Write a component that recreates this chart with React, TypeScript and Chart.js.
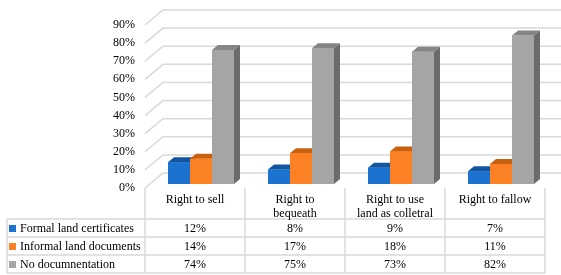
import React, { useEffect, useRef } from "react";
import { Chart, registerables } from "chart.js";

Chart.register(...registerables);

// ---- data ----
const categories: string[][] = [
  ["Right to sell"],
  ["Right to", "bequeath"],
  ["Right to use", "land as colletral"],
  ["Right to fallow"],
];
const seriesNames = ["Formal land certificates", "Informal land documents", "No documnentation"];
const formalCertificates = [12, 8, 9, 7];
const informalDocuments = [14, 17, 18, 11];
const noDocumentation = [74, 75, 73, 82];
const yMax = 90;
const yStep = 10;

// ---- styles ----
const FRONT = ["#1b72cf", "#fc8024", "#a5a5a5"];
const TOP = ["#14559f", "#c9600f", "#858585"];
const SIDE = ["#0f4786", "#a9500c", "#6b6b6b"];
const FONT = '"Liberation Serif", "Times New Roman", serif';
const GRID = "#d9d9d9";

const WALL_DX = 18;
const WALL_DY = -15;
const BAR_SHIFT_X = 6;
const BAR_SHIFT_Y = -4;
const BAR_DX = 6;
const BAR_DY = -5;
const HEADER_H = 31;
const ROW_H = 18;
const LEGEND_LEFT = 7;

const poly = (ctx: CanvasRenderingContext2D, pts: number[][], fill: string) => {
  ctx.beginPath();
  ctx.moveTo(pts[0][0], pts[0][1]);
  for (let i = 1; i < pts.length; i++) ctx.lineTo(pts[i][0], pts[i][1]);
  ctx.closePath();
  ctx.fillStyle = fill;
  ctx.fill();
};

const threeD = {
  id: "threeD",
  beforeDatasetsDraw(chart: any) {
    const { ctx, chartArea, scales } = chart;
    const y = scales.y;
    ctx.save();
    ctx.strokeStyle = GRID;
    ctx.lineWidth = 1.5;
    y.ticks.forEach((t: any) => {
      const yy = y.getPixelForValue(t.value);
      ctx.beginPath();
      ctx.moveTo(chartArea.left, yy);
      ctx.lineTo(chartArea.left + WALL_DX, yy + WALL_DY);
      ctx.lineTo(chartArea.right + WALL_DX, yy + WALL_DY);
      ctx.stroke();
    });
    ctx.restore();
    ctx.save();
    ctx.translate(BAR_SHIFT_X, BAR_SHIFT_Y);
  },
  afterDatasetsDraw(chart: any) {
    const ctx: CanvasRenderingContext2D = chart.ctx;
    const n = chart.data.labels.length;
    for (let i = 0; i < n; i++) {
      chart.data.datasets.forEach((_ds: any, d: number) => {
        const el = chart.getDatasetMeta(d).data[i];
        const { x, y, width, base } = el.getProps(["x", "y", "width", "base"], true);
        const l = x - width / 2;
        const r = x + width / 2;
        poly(ctx, [[l, y], [r, y], [r + BAR_DX, y + BAR_DY], [l + BAR_DX, y + BAR_DY]], TOP[d]);
        poly(ctx, [[r, y], [r + BAR_DX, y + BAR_DY], [r + BAR_DX, base + BAR_DY], [r, base]], SIDE[d]);
        poly(ctx, [[l, y], [r, y], [r, base], [l, base]], FRONT[d]);
      });
    }
    ctx.restore();
  },
  afterDraw(chart: any) {
    const { ctx, chartArea, scales } = chart;
    const xs = scales.x;
    const ys = scales.y;
    const n = chart.data.labels.length;
    const floor = ys.getPixelForValue(0);
    const left = chartArea.left;
    const right = chartArea.right;
    const colW = (right - left) / n;
    const headBottom = floor + HEADER_H;
    const rows = chart.data.datasets.length;
    const bottom = headBottom + rows * ROW_H;

    ctx.save();
    ctx.strokeStyle = GRID;
    ctx.lineWidth = 1.5;
    for (let i = 0; i <= n; i++) {
      const xx = left + i * colW;
      ctx.beginPath();
      ctx.moveTo(xx, floor);
      ctx.lineTo(xx, bottom);
      ctx.stroke();
    }
    ctx.beginPath();
    ctx.moveTo(LEGEND_LEFT, headBottom);
    ctx.lineTo(LEGEND_LEFT, bottom);
    ctx.stroke();
    for (let r = 0; r <= rows; r++) {
      const yy = headBottom + r * ROW_H;
      ctx.beginPath();
      ctx.moveTo(LEGEND_LEFT, yy);
      ctx.lineTo(right, yy);
      ctx.stroke();
    }

    ctx.fillStyle = "#000";
    ctx.font = `12px ${FONT}`;
    ctx.textAlign = "center";
    ctx.textBaseline = "middle";
    chart.data.labels.forEach((lab: string[], i: number) => {
      const cx = xs.getPixelForValue(i);
      lab.forEach((line, k) => {
        ctx.fillText(line, cx, floor + 12 + k * 13.5);
      });
    });
    chart.data.datasets.forEach((ds: any, d: number) => {
      const cy = headBottom + d * ROW_H + ROW_H / 2 + 0.5;
      ds.data.forEach((v: number, i: number) => {
        ctx.fillText(`${v}%`, xs.getPixelForValue(i), cy);
      });
      ctx.fillStyle = FRONT[d];
      ctx.fillRect(LEGEND_LEFT + 2, cy - 3.5, 7, 7);
      ctx.fillStyle = "#000";
      ctx.textAlign = "left";
      ctx.fillText(ds.label, LEGEND_LEFT + 13, cy);
      ctx.textAlign = "center";
    });
    ctx.restore();
  },
};

export default function App() {
  const ref = useRef<HTMLCanvasElement | null>(null);
  useEffect(() => {
    document.body.style.margin = "0";
    if (!ref.current) return;
    const series = [formalCertificates, informalDocuments, noDocumentation];
    const chart = new Chart(ref.current, {
      type: "bar",
      data: {
        labels: categories as any,
        datasets: series.map((data, i) => ({
          label: seriesNames[i],
          data,
          backgroundColor: FRONT[i],
          borderWidth: 0,
          categoryPercentage: 0.66,
          barPercentage: 1,
          clip: false as any,
        })),
      },
      options: {
        responsive: false,
        animation: false,
        devicePixelRatio: 1,
        layout: { padding: { left: 0, top: 25, right: 16, bottom: 87 } },
        plugins: { legend: { display: false }, tooltip: { enabled: false } },
        scales: {
          x: { display: false },
          y: {
            min: 0,
            max: yMax,
            ticks: {
              stepSize: yStep,
              padding: 10,
              color: "#000",
              font: { family: FONT, size: 12 },
              callback: (v: any) => `${v}%`,
            },
            grid: { display: false, drawTicks: false },
            border: { display: false },
            afterFit: (s: any) => {
              s.width = 145;
            },
          },
        },
      },
      plugins: [threeD],
    });
    return () => chart.destroy();
  }, []);
  return <canvas ref={ref} width={561} height={275} style={{ display: "block" }} />;
}
